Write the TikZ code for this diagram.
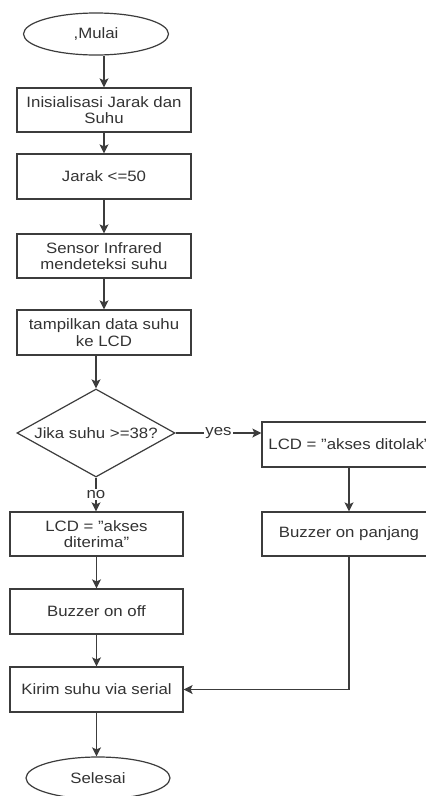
\documentclass[tikz,border=0pt]{standalone}
\usepackage{fontspec}
\setmainfont{Liberation Sans}[FakeStretch=1.12]
\usetikzlibrary{shapes.geometric,arrows.meta,calc}
\definecolor{ln}{HTML}{3C3C3C}
\definecolor{tx}{HTML}{333333}
\begin{document}
\begin{tikzpicture}[x=1pt,y=1pt,
  every node/.style={font=\fontsize{15pt}{16.5pt}\selectfont, text=tx, inner sep=0pt},
  procbox/.style={draw=ln, line width=1.2pt, rectangle, minimum width=174pt, align=center},
  termin/.style={draw=ln, line width=1.2pt, ellipse, minimum width=145pt, minimum height=42pt},
  decis/.style={draw=ln, line width=1.2pt, diamond, aspect=1.8, minimum width=158pt, minimum height=88pt},
  arr/.style={draw=ln, line width=1.2pt, -{Stealth[length=9pt,width=9pt,inset=2pt]}},
  lbl/.style={fill=white, inner sep=1pt}]
\useasboundingbox[fill=white] (0,0) rectangle (426,-796);
\node[termin] (mulai) at (96,-34) {,Mulai};
\node[procbox, minimum height=44pt] (init) at (104,-110) {Inisialisasi Jarak dan\\Suhu};
\node[procbox, minimum height=45pt] (jarak) at (104,-176.5) {Jarak <=50};
\node[procbox, minimum height=44pt] (sensor) at (104,-256) {Sensor Infrared\\mendeteksi suhu};
\node[procbox, minimum height=45pt] (tampil) at (104,-332.5) {tampilkan data suhu\\ke LCD};
\node[decis] (dec) at (96,-433) {Jika suhu >=38?};
\node[procbox, minimum height=45pt] (tolak) at (349,-444.5) {LCD = \char34 akses ditolak\char34};
\node[procbox, minimum width=173pt, minimum height=44pt] (terima) at (96.5,-534) {LCD = \char34 akses\\diterima\char34};
\node[procbox, minimum height=44pt] (panjang) at (349,-534) {Buzzer on panjang};
\node[procbox, minimum width=173pt, minimum height=45pt] (onoff) at (96.5,-611.5) {Buzzer on off};
\node[procbox, minimum width=173pt, minimum height=45pt] (kirim) at (96.5,-689.5) {Kirim suhu via serial};
\node[termin, minimum width=144pt] (selesai) at (98,-778) {Selesai};

\draw[arr] (mulai.south -| init.north) -- (init.north);
\draw[arr] (init) -- (jarak);
\draw[arr] (jarak) -- (sensor);
\draw[arr] (sensor) -- (tampil);
\draw[arr] (tampil.south -| dec.north) -- (dec.north);
\draw[arr] (dec.east) -- node[lbl] {yes} (dec.east -| tolak.west);
\draw[arr] (dec.south) -- node[lbl] {no} (dec.south |- terima.north);
\draw[arr] (tolak) -- (panjang);
\draw[arr] (terima) -- (onoff);
\draw[arr] (onoff) -- (kirim);
\draw[arr] (panjang.south) |- (kirim.east);
\draw[arr] (kirim.south) -- (kirim.south |- selesai.north);
\end{tikzpicture}
\end{document}
